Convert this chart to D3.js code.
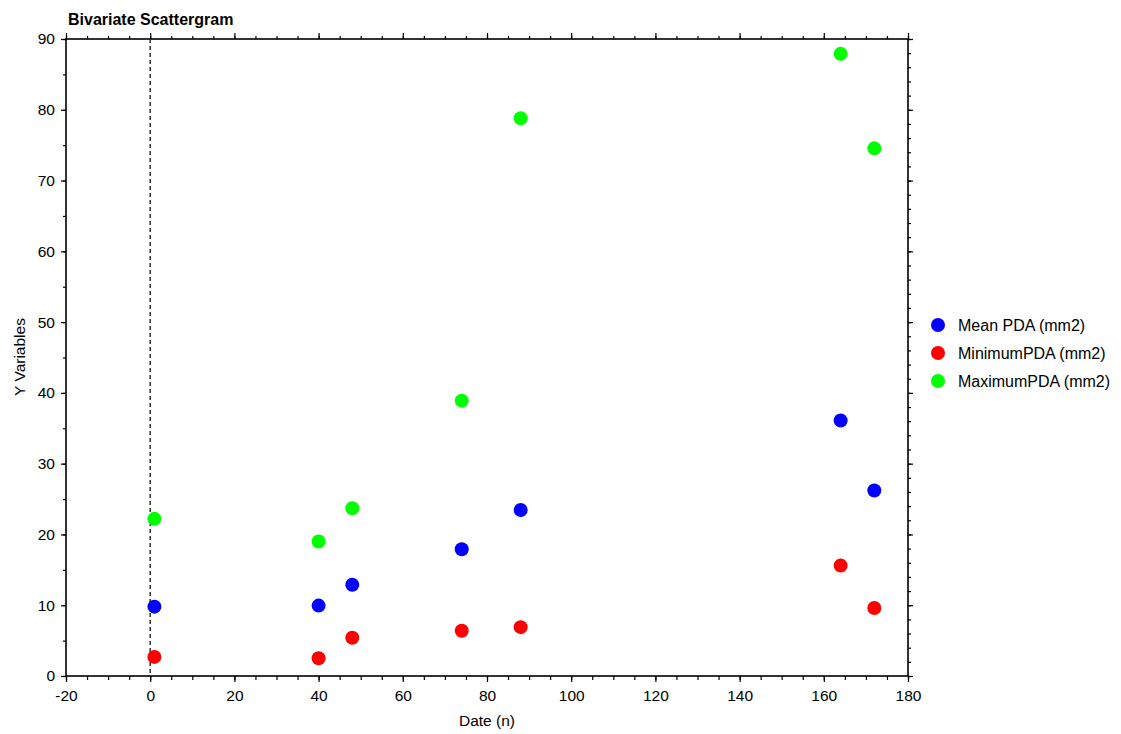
<!DOCTYPE html>
<html>
<head>
<meta charset="utf-8">
<script src="https://cdn.jsdelivr.net/npm/d3@7"></script>
<style>
  body { margin: 0; background: #fff; }
  svg text { font-family: "Liberation Sans", Arial, sans-serif; fill: #000; }
  .tick text { font-size: 15.5px; }
  .domain { display: none; }
</style>
</head>
<body>
<div id="chart"></div>
<script>
var svgWidth = 1121;
var svgHeight = 734;

var margin = { top: 39, right: 213, bottom: 58, left: 66 };
var chartWidth = 908 - margin.left;
var chartHeight = 676 - margin.top;

// data
var dates = [1, 40, 48, 74, 88, 164, 172];
var meanPDA = [9.8, 9.95, 12.9, 17.9, 23.45, 36.1, 26.2];
var minimumPDA = [2.7, 2.5, 5.4, 6.4, 6.9, 15.6, 9.6];
var maximumPDA = [22.2, 19.0, 23.7, 38.9, 78.8, 87.9, 74.55];

var seriesNames = ["Mean PDA (mm2)", "MinimumPDA (mm2)", "MaximumPDA (mm2)"];
var seriesColors = ["#0000ff", "#ff0000", "#00ff00"];
var seriesValues = [meanPDA, minimumPDA, maximumPDA];

var xTicks = [-20, 0, 20, 40, 60, 80, 100, 120, 140, 160, 180];
var yTicks = [0, 10, 20, 30, 40, 50, 60, 70, 80, 90];

var svg = d3.select("#chart")
    .append("svg")
    .attr("width", svgWidth)
    .attr("height", svgHeight);

var chartGroup = svg.append("g")
    .attr("transform", `translate(${margin.left}, ${margin.top})`);

var xScale = d3.scaleLinear().domain([-20, 180]).range([0, chartWidth]);
var yScale = d3.scaleLinear().domain([0, 90]).range([chartHeight, 0]);

// minor ticks first
chartGroup.append("g")
    .attr("transform", `translate(0, ${chartHeight})`)
    .call(d3.axisBottom(xScale).tickValues(d3.range(-20, 181, 5)).tickSize(4).tickFormat(""));
chartGroup.append("g")
    .call(d3.axisTop(xScale).tickValues(d3.range(-20, 181, 5)).tickSize(3).tickFormat(""));
chartGroup.append("g")
    .call(d3.axisLeft(yScale).tickValues(d3.range(0, 91, 5)).tickSize(3).tickFormat(""));
chartGroup.append("g")
    .attr("transform", `translate(${chartWidth}, 0)`)
    .call(d3.axisRight(yScale).tickValues(d3.range(0, 91, 2)).tickSize(3).tickFormat(""));

// major ticks
var bottomAxis = chartGroup.append("g")
    .attr("transform", `translate(0, ${chartHeight})`)
    .call(d3.axisBottom(xScale).tickValues(xTicks).tickSize(6).tickPadding(8).tickFormat(d => String(d)));
chartGroup.append("g")
    .call(d3.axisTop(xScale).tickValues(xTicks).tickSize(6).tickFormat(""));
var leftAxis = chartGroup.append("g")
    .call(d3.axisLeft(yScale).tickValues(yTicks).tickSize(5).tickPadding(6));
chartGroup.append("g")
    .attr("transform", `translate(${chartWidth}, 0)`)
    .call(d3.axisRight(yScale).tickValues(yTicks).tickSize(5).tickFormat(""));

chartGroup.selectAll(".tick line").attr("stroke", "#000").attr("stroke-width", 1.2);

// frame
chartGroup.append("rect")
    .attr("x", 0)
    .attr("y", 0)
    .attr("width", chartWidth)
    .attr("height", chartHeight)
    .attr("fill", "none")
    .attr("stroke", "#000")
    .attr("stroke-width", 1.6);

// dashed zero line
chartGroup.append("line")
    .attr("x1", xScale(0))
    .attr("x2", xScale(0))
    .attr("y1", 0)
    .attr("y2", chartHeight)
    .attr("stroke", "#222")
    .attr("stroke-width", 1.4)
    .attr("stroke-dasharray", "4,3");

// points
seriesValues.forEach(function(vals, i) {
    chartGroup.append("g")
        .selectAll("circle")
        .data(vals)
        .enter()
        .append("circle")
        .attr("cx", (d, j) => xScale(dates[j]))
        .attr("cy", d => yScale(d))
        .attr("r", 7)
        .attr("fill", seriesColors[i]);
});

// labels
svg.append("text")
    .attr("x", 68)
    .attr("y", 25)
    .attr("font-size", 16)
    .attr("font-weight", "bold")
    .text("Bivariate Scattergram");

svg.append("text")
    .attr("x", margin.left + chartWidth / 2)
    .attr("y", 726)
    .attr("text-anchor", "middle")
    .attr("font-size", 15.5)
    .text("Date (n)");

svg.append("text")
    .attr("transform", "rotate(-90)")
    .attr("x", -357)
    .attr("y", 25)
    .attr("text-anchor", "middle")
    .attr("font-size", 15.5)
    .text("Y Variables");

// legend
var legend = svg.append("g")
    .attr("transform", "translate(938, 325)");

var legendItems = legend.selectAll("g")
    .data(seriesNames)
    .enter()
    .append("g")
    .attr("transform", (d, i) => `translate(0, ${i * 28})`);

legendItems.append("circle")
    .attr("r", 7)
    .attr("fill", (d, i) => seriesColors[i]);

legendItems.append("text")
    .attr("x", 20)
    .attr("y", 6)
    .attr("font-size", 16)
    .text(d => d);
</script>
</body>
</html>
